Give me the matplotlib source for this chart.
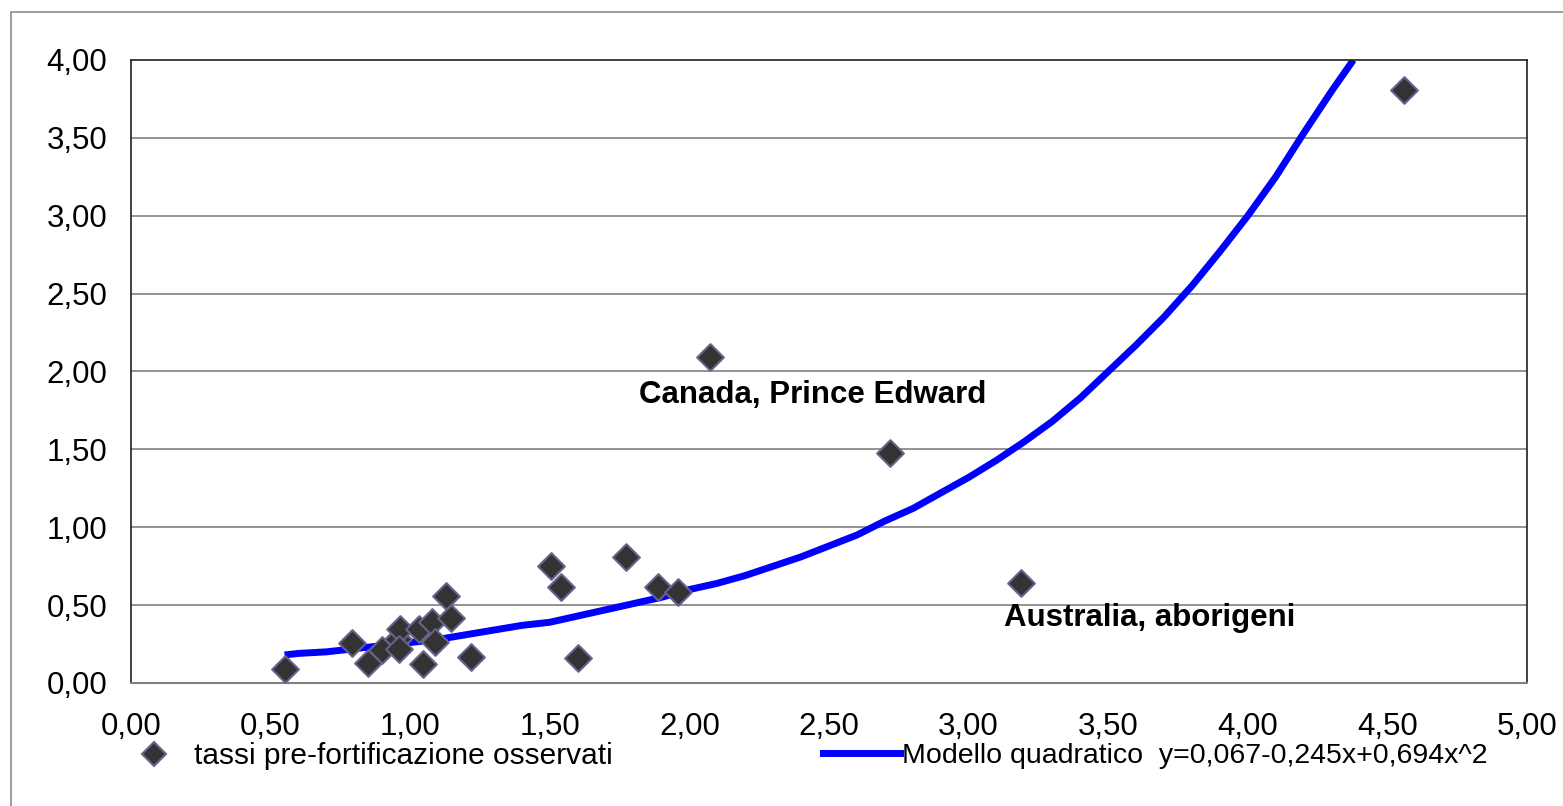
import matplotlib.pyplot as plt
import numpy as np
from matplotlib.lines import Line2D
from matplotlib.patches import Rectangle

plt.rcParams['font.family'] = ['Liberation Sans', 'DejaVu Sans']

# observed pre-fortification rates
obs_x = [0.55, 0.79, 0.85, 0.90, 0.955, 0.963, 0.961, 1.03, 1.047, 1.077, 1.089,
         1.128, 1.146, 1.218, 1.504, 1.54, 1.60, 1.772, 1.886, 1.958, 2.075,
         2.717, 3.188, 4.56]
obs_y = [0.09, 0.26, 0.13, 0.21, 0.28, 0.345, 0.22, 0.345, 0.12, 0.39, 0.265,
         0.56, 0.415, 0.165, 0.753, 0.614, 0.163, 0.811, 0.614, 0.586, 2.095,
         1.474, 0.64, 3.81]

# quadratic model curve
model_x = [0.55, 0.6, 0.7, 0.8, 0.9, 1.0, 1.1, 1.2, 1.3, 1.4, 1.5, 1.6, 1.7, 1.8,
           1.9, 2.0, 2.1, 2.2, 2.3, 2.4, 2.5, 2.6, 2.7, 2.8, 2.9, 3.0, 3.1, 3.2,
           3.3, 3.4, 3.5, 3.6, 3.7, 3.8, 3.9, 4.0, 4.1, 4.2, 4.3, 4.378]
model_y = [0.18, 0.19, 0.20, 0.22, 0.24, 0.26, 0.28, 0.31, 0.34, 0.37, 0.39, 0.43,
           0.47, 0.51, 0.55, 0.60, 0.64, 0.69, 0.75, 0.81, 0.88, 0.95, 1.04, 1.12,
           1.22, 1.32, 1.43, 1.55, 1.68, 1.83, 2.00, 2.17, 2.35, 2.55, 2.77, 3.00,
           3.25, 3.53, 3.80, 4.00]

xticks = np.arange(0, 5.01, 0.5)
yticks = np.arange(0, 4.01, 0.5)

fig = plt.figure(figsize=(15.63, 8.06), dpi=100)
ax = fig.add_axes([131/1563, 1-683/806, (1527-131)/1563, (683-60)/806])

# outer chart frame
fig.patches.append(Rectangle((11/1563, -0.1), 1.2, 1-12/806+0.1, transform=fig.transFigure,
                             fill=False, edgecolor='#8c8c8c', lw=1.2))

for y in yticks[1:-1]:
    ax.axhline(y, color='#808080', lw=1.2, zorder=1)

line, = ax.plot(model_x, model_y, color='#0000ff', lw=5, solid_capstyle='butt', zorder=2)
pts = ax.scatter(obs_x, obs_y, marker='D', s=185, c='#333333', edgecolors='#64648c',
                 linewidths=1.5, zorder=3)

ax.text(2.443, 1.849, 'Canada, Prince Edward', fontsize=22.5, fontweight='bold',
        ha='center', va='center')
ax.text(3.65, 0.417, 'Australia, aborigeni', fontsize=22.5, fontweight='bold',
        ha='center', va='center')

ax.set_xlim(0, 5)
ax.set_ylim(0, 4)
ax.set_xticks(xticks)
ax.set_yticks(yticks)
ax.set_xticklabels([f'{v:.2f}'.replace('.', ',') for v in xticks])
ax.set_yticklabels([f'{v:.2f}'.replace('.', ',') for v in yticks])
ax.tick_params(length=0, labelsize=22.5, colors='black')
ax.tick_params(axis='y', pad=17)
ax.tick_params(axis='x', pad=21)

for s in ['top', 'left', 'right']:
    ax.spines[s].set_color('#202020')
    ax.spines[s].set_linewidth(1.2)
ax.spines['bottom'].set_color('#808080')
ax.spines['bottom'].set_linewidth(1.5)

h1 = Line2D([], [], marker='D', ls='none', markersize=12, markerfacecolor='#333333',
            markeredgecolor='#64648c', markeredgewidth=1.5)
h2 = Line2D([], [], color='#0000ff', lw=5)
fig.legend([h1], ['tassi pre-fortificazione osservati'], loc='center left',
           bbox_to_anchor=(112/1563, 1-756/806), frameon=False, fontsize=21.5,
           handlelength=2.0, handletextpad=0.35, borderaxespad=0)
fig.legend([h2], ['Modello quadratico  y=0,067-0,245x+0,694x^2'], loc='center left',
           bbox_to_anchor=(812/1563, 1-756/806), frameon=False, fontsize=20.5,
           handlelength=2.7, handletextpad=0.05, borderaxespad=0)

fig.savefig('out.png', dpi=100)
